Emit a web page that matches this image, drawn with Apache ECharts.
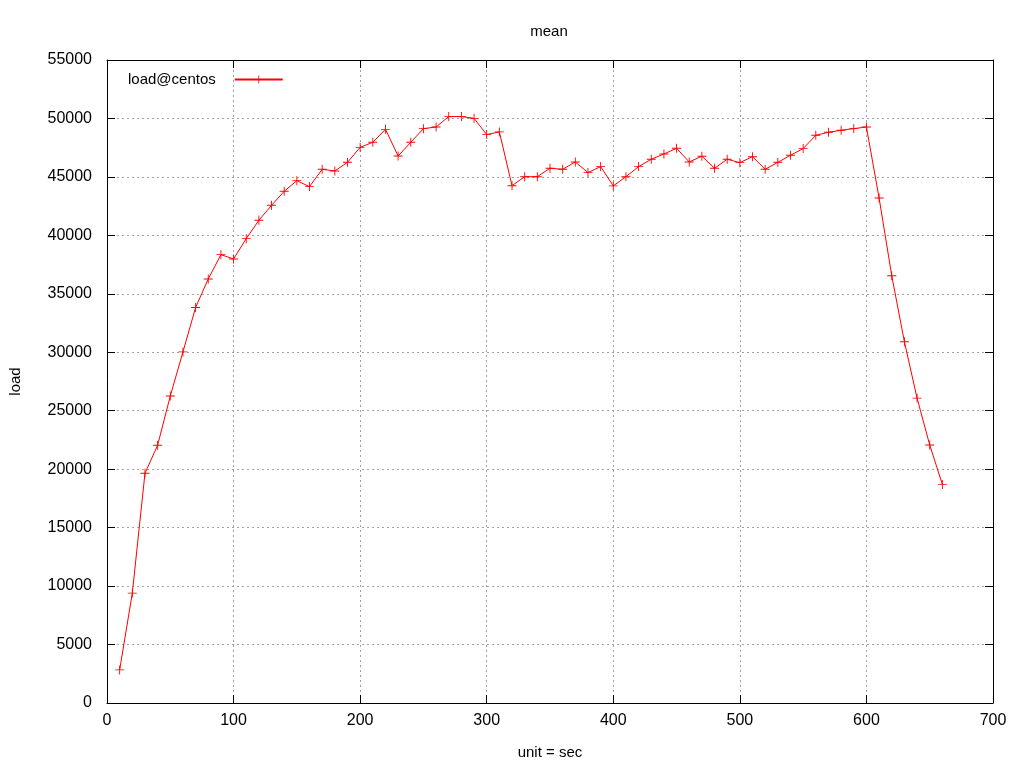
<!DOCTYPE html>
<html>
<head>
<meta charset="utf-8">
<script src="https://cdn.jsdelivr.net/npm/echarts@6/dist/echarts.min.js"></script>
<style>html,body{margin:0;padding:0;background:#fff;}#c{width:1024px;height:768px;}</style>
</head>
<body>
<div id="c"></div>
<script>
const seconds = [10,20,30,40,50,60,70,80,90,100,110,120,130,140,150,160,170,180,190,200,
  210,220,230,240,250,260,270,280,290,300,310,320,330,340,350,360,370,380,390,400,
  410,420,430,440,450,460,470,480,490,500,510,520,530,540,550,560,570,580,590,600,
  610,620,630,640,650,660];
const loadValues = [2830,9400,19650,22050,26260,30030,33830,36270,38350,37980,
  39720,41290,42570,43770,44680,44170,45650,45510,46250,47530,
  47960,49070,46790,47960,49130,49270,50160,50160,50010,48620,
  48850,44250,45020,45020,45740,45650,46280,45370,45880,44230,
  45020,45880,46510,46960,47450,46280,46770,45740,46510,46220,
  46730,45650,46250,46850,47420,48560,48820,48990,49130,49270,
  43200,36550,30900,26080,22070,18700];
const seriesName = 'load@centos';
const titleText = 'mean';
const xName = 'unit = sec';
const yName = 'load';

const font = 'Liberation Sans, Arial, sans-serif';
const plus = 'path://M0,4.5h10v1h-10z M4.5,0h1v10h-1z';
const chart = echarts.init(document.getElementById('c'), null, {renderer: 'canvas'});
const tick = {show: true, inside: true, length: 8, lineStyle: {color: '#000', width: 1}};
const line = {show: true, onZero: false, lineStyle: {color: '#000', width: 1}};
const split = {show: true, lineStyle: {color: '#a0a0a0', width: 1, type: [2, 3]}};
const plain = v => String(v);
chart.setOption({
  animation: false,
  backgroundColor: '#fff',
  title: {text: titleText, left: 544, top: 19, textAlign: 'center',
    textStyle: {fontFamily: font, fontSize: 15, fontWeight: 'normal', color: '#000'}},
  legend: {left: 123, top: 67, align: 'right', itemWidth: 48, itemHeight: 10,
    data: [seriesName],
    textStyle: {fontFamily: font, fontSize: 15, color: '#000', padding: [0, 14, 0, 0]}},
  grid: {left: 106, right: 31, top: 60, bottom: 65, containLabel: false},
  xAxis: [{
    type: 'value', min: 0, max: 700, interval: 100, position: 'bottom',
    name: xName, nameLocation: 'middle', nameGap: 42,
    nameTextStyle: {fontFamily: font, fontSize: 15, color: '#000'},
    axisLine: line, axisTick: tick, splitLine: split,
    axisLabel: {fontFamily: font, fontSize: 16, color: '#000', margin: 10, formatter: plain}
  }, {
    type: 'value', min: 0, max: 700, interval: 100, position: 'top',
    axisLine: line, axisTick: tick, splitLine: {show: false}, axisLabel: {show: false}
  }],
  yAxis: [{
    type: 'value', min: 0, max: 55000, interval: 5000, position: 'left',
    name: yName, nameLocation: 'middle', nameGap: 84, nameRotate: 90,
    nameTextStyle: {fontFamily: font, fontSize: 15, color: '#000'},
    axisLine: line, axisTick: tick, splitLine: split,
    axisLabel: {fontFamily: font, fontSize: 16, color: '#000', margin: 15, formatter: plain}
  }, {
    type: 'value', min: 0, max: 55000, interval: 5000, position: 'right',
    axisLine: line, axisTick: tick, splitLine: {show: false}, axisLabel: {show: false}
  }],
  series: [{
    name: seriesName, type: 'line', xAxisIndex: 0, yAxisIndex: 0,
    data: seconds.map((s, i) => [s, loadValues[i]]),
    symbol: plus, symbolSize: 9, showAllSymbol: true,
    lineStyle: {color: '#ff0000', width: 1},
    itemStyle: {color: '#ff0000'}
  }]
});
</script>
</body>
</html>
